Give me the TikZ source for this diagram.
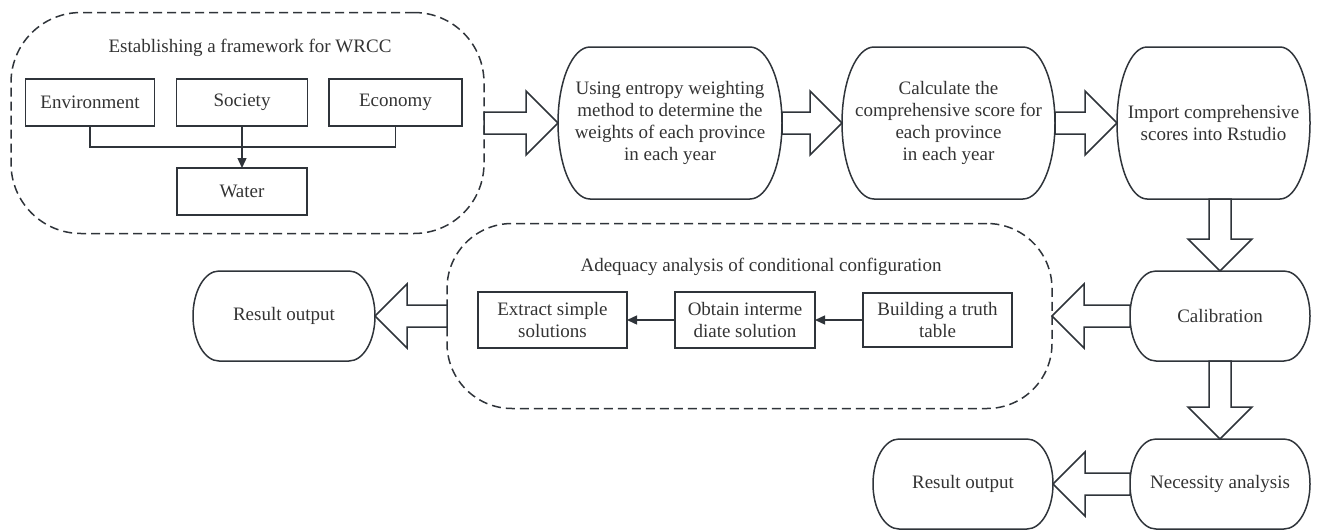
\documentclass[tikz,border=0pt]{standalone}
\usepackage{fontspec}
\setmainfont{Liberation Serif}
\usetikzlibrary{calc,arrows.meta}

\definecolor{edgegray}{HTML}{2F343A}
\definecolor{textgray}{HTML}{333333}

% outline with elliptic ends round a node: name, x radius, y radius
\newcommand\pill[3]{%
  \draw[outline] ([xshift=#2]#1.north west) -- ([xshift=-#2]#1.north east)
    arc[start angle=90,end angle=0,x radius=#2,y radius=#3]
    arc[start angle=0,end angle=-90,x radius=#2,y radius=#3]
    -- ([xshift=#2]#1.south west)
    arc[start angle=270,end angle=180,x radius=#2,y radius=#3]
    arc[start angle=180,end angle=90,x radius=#2,y radius=#3] -- cycle;}
% hollow block arrow from #1 to #2
\newcommand\blockarrow[2]{%
  \draw[fat] let \p1=(#1), \p2=(#2),
    \n1={atan2(\y2-\y1,\x2-\x1)}, \n2={veclen(\x2-\x1,\y2-\y1)} in
    [shift={(\p1)}, rotate=\n1]
    (0,-11) -- (\n2-32,-11) -- (\n2-32,-32) -- (\n2,0)
    -- (\n2-32,32) -- (\n2-32,11) -- (0,11) -- cycle;}

\begin{document}
\begin{tikzpicture}[x=1pt,y=-1pt,
  every node/.style={font=\fontsize{19}{22}\selectfont,text=textgray,outer sep=0pt},
  plainbox/.style={draw=edgegray,line width=1.5pt,align=center,inner sep=2pt},
  pillbox/.style={align=center,inner sep=2pt},
  group/.style={draw=edgegray,line width=1.5pt,dash pattern=on 9pt off 5pt},
  outline/.style={draw=edgegray,line width=1.5pt},
  fat/.style={draw=edgegray,line width=1.5pt,fill=white,line join=miter},
  conn/.style={draw=edgegray,line width=1.4pt},
  tip/.style={conn,-{Triangle[length=10pt,width=9pt]}}]
\useasboundingbox (0,0) rectangle (1325,530);

% framework group
\node[group,rounded corners=70pt,minimum width=473pt,minimum height=221pt] (frame) at (247.5,123) {};
\node (frametitle) at (250,48) {Establishing a framework for WRCC};
\node[plainbox,minimum width=129pt,minimum height=47pt] (env) at (90,102.5) {Environment};
\node[plainbox,minimum width=131pt,minimum height=47pt] (soc) at (242,102.5) {Society};
\node[plainbox,minimum width=133pt,minimum height=47pt] (eco) at (395.5,102.5) {Economy};
\node[plainbox,minimum width=130pt,minimum height=47pt] (water) at (242,191.5) {Water};
\coordinate (join) at (242,147);
\draw[conn] (env.south) |- (join) -| (eco.south);
\draw[tip] (soc.south) -- (water.north);

% main steps
\node[pillbox,minimum width=224pt,minimum height=152pt] (weight) at (670,123)
  {Using entropy weighting\\method to determine the\\weights of each province\\in each year};
\node[pillbox,minimum width=213pt,minimum height=152pt] (score) at (948.5,123)
  {Calculate the\\comprehensive score for\\each province\\in each year};
\node[pillbox,minimum width=193pt,minimum height=152pt] (imp) at (1213.5,123)
  {Import comprehensive\\scores into Rstudio};
\node[pillbox,minimum width=180pt,minimum height=90pt] (cal) at (1220,316) {Calibration};
\node[pillbox,minimum width=180pt,minimum height=90pt] (nec) at (1220,484) {Necessity analysis};
\node[pillbox,minimum width=180pt,minimum height=90pt] (res2) at (963,484) {Result output};
\node[pillbox,minimum width=182pt,minimum height=90pt] (res1) at (284,316) {Result output};
\foreach \n/\rx/\ry in {weight/32/76,score/32/76,imp/30/76,cal/26/45,nec/26/45,res1/26/45,res2/26/45}
  {\pill{\n}{\rx pt}{\ry pt}}

% adequacy group
\node[group,rounded corners=65pt,minimum width=605pt,minimum height=185pt] (adeq) at (749.5,316) {};
\node (adeqtitle) at (761,267) {Adequacy analysis of conditional configuration};
\node[plainbox,minimum width=149pt,minimum height=56pt] (extract) at (552.5,320) {Extract simple\\solutions};
\node[plainbox,minimum width=140pt,minimum height=56pt] (obtain) at (745,320) {Obtain interme\\diate solution};
\node[plainbox,minimum width=149pt,minimum height=54pt] (truth) at (937.5,320) {Building a truth\\table};
\draw[tip] (truth.west) -- (obtain.east);
\draw[tip] (obtain.west) -- (extract.east);

% block arrows
\blockarrow{frame.east}{weight.west}
\blockarrow{weight.east}{score.west}
\blockarrow{score.east}{imp.west}
\blockarrow{cal.north |- imp.south}{cal.north}
\blockarrow{cal.west}{adeq.east}
\blockarrow{adeq.west}{res1.east}
\blockarrow{cal.south}{nec.north}
\blockarrow{nec.west}{res2.east}
\end{tikzpicture}
\end{document}
